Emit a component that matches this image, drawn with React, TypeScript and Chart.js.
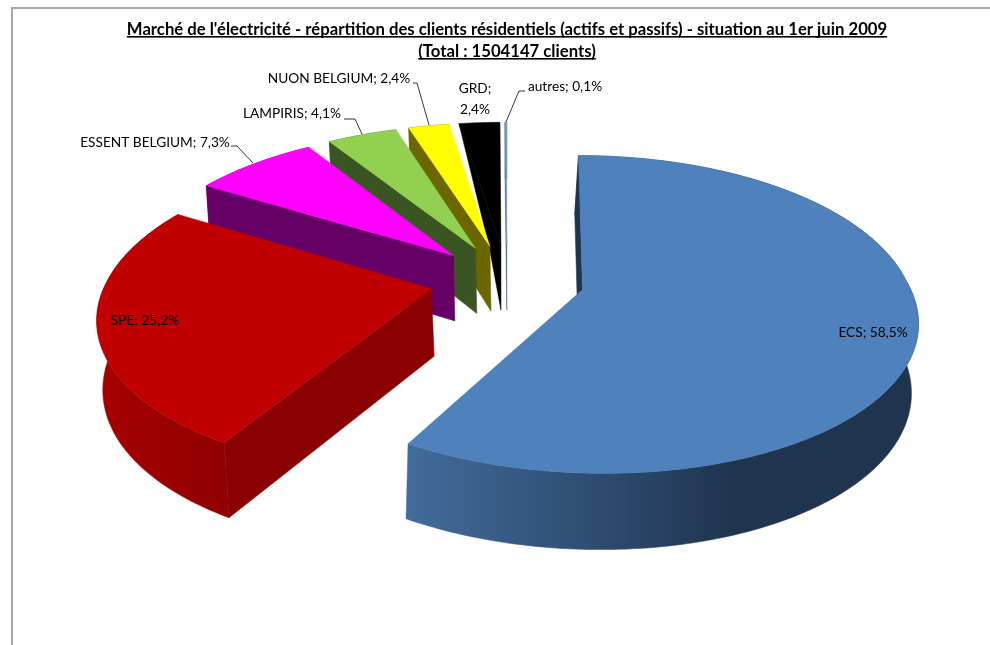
import React, { useEffect, useRef } from "react";
import { Chart, registerables } from "chart.js";

Chart.register(...registerables);

const categories = ["ECS", "SPE", "ESSENT BELGIUM", "LAMPIRIS", "NUON BELGIUM", "GRD", "autres"];
const shares = [58.5, 25.2, 7.3, 4.1, 2.4, 2.4, 0.1];
const titleLines = [
  "Marché de l'électricité - répartition des clients résidentiels (actifs et passifs) - situation au 1er juin 2009",
  "(Total : 1504147 clients)",
];

const faceColors = ["#4f81bd", "#c00000", "#ff00ff", "#92d050", "#ffff00", "#000000", "#7f9fcc"];
const wallColors = ["#1f344f", "#8b0000", "#660066", "#3a5522", "#6b6600", "#000000", "#3f5f85"];
const rimStops: string[][] = [
  ["#426c9c", "#1f344f"],
  ["#a60000", "#8e0000"],
  ["#660066", "#660066"],
  ["#3a5522", "#3a5522"],
  ["#6b6600", "#6b6600"],
  ["#000000", "#000000"],
  ["#3f5f85", "#3f5f85"],
];

const view = { radius: 325, flatRadius: 152, persp: 0.155, depth: 67, depthGrow: 0.13, bottomScale: 0.99 };
const bottomShiftX = [-3, 2, 1, 1, 1, 0, 0];
const frontSkew = [8, -3, 0, 0, 0, 0, 0];
const rearSkew = [7, 0, 0, 0, 0, 0, 0];
const sliceShiftY = [0, 0, 0, 0, 0, 0, 0];
// slices whose cut wall only shows as a partial silhouette: [along the edge, down the wall]
const partialWall: ([number, number] | null)[] = [null, null, null, null, null, [0.28, 0.55], null];

// anchor for each label: x, y (middle), align
const labelPlace: [number, number, CanvasTextAlign][] = [
  [873, 333, "center"],
  [145, 321, "center"],
  [155, 143, "center"],
  [292, 114, "center"],
  [339, 79, "center"],
  [475, 100, "center"],
  [565, 87, "center"],
];
const leaders: number[][][] = [
  [],
  [],
  [[231, 146], [237, 146], [253, 163]],
  [[344, 119], [355, 119], [362, 134]],
  [[413, 83], [417, 83], [429, 125]],
  [],
  [[506, 122], [519, 91], [525, 91]],
];

const titleFont = { family: "Lato", size: 16.7, weight: "bold" as const, lineHeight: 22 / 16.7 };
const labelFont = "13.7px Lato";

const pie3d = {
  id: "pie3d",
  beforeDatasetsDraw(chart: any) {
    const ctx: CanvasRenderingContext2D = chart.ctx;
    const arcs = chart.getDatasetMeta(0).data;
    const { radius, flatRadius, persp, depth, depthGrow, bottomScale } = view;
    for (let i = arcs.length - 1; i >= 0; i--) {
      const el = arcs[i];
      const { x: cx, y: cy0, startAngle, endAngle, outerRadius } = el.getProps(
        ["x", "y", "startAngle", "endAngle", "outerRadius"], true);
      const cy = cy0 + sliceShiftY[i];
      const mid = (startAngle + endAngle) / 2;
      const off = el.options.offset / outerRadius;
      const ou = Math.cos(mid) * off;
      const ov = Math.sin(mid) * off;
      const skew = (v: number) => frontSkew[i] * Math.max(v, 0) + rearSkew[i] * Math.max(-v, 0);
      const top = (u: number, v: number) => {
        const s = 1 / (1 - persp * v);
        return [cx + u * radius * s + skew(v), cy + v * flatRadius * s];
      };
      const bot = (u: number, v: number) => {
        const s = 1 / (1 - persp * v);
        return [
          cx + (u * radius * s + skew(v)) * bottomScale + bottomShiftX[i],
          cy + v * flatRadius * s + depth * (1 + depthGrow * v),
        ];
      };
      const steps = Math.max(2, Math.ceil((endAngle - startAngle) * 60));
      const rim: number[][] = [];
      for (let k = 0; k <= steps; k++) {
        const a = startAngle + ((endAngle - startAngle) * k) / steps;
        rim.push([ou + Math.cos(a), ov + Math.sin(a)]);
      }
      const poly = (pts: number[][], fill: string | CanvasGradient) => {
        ctx.beginPath();
        pts.forEach((p, n) => (n ? ctx.lineTo(p[0], p[1]) : ctx.moveTo(p[0], p[1])));
        ctx.closePath();
        ctx.fillStyle = fill;
        ctx.strokeStyle = fill;
        ctx.lineWidth = 0.5;
        ctx.fill();
        ctx.stroke();
      };
      const topRim = rim.map((p) => top(p[0], p[1]));
      const botRim = rim.map((p) => bot(p[0], p[1]));
      const tip = top(ou, ov);
      const tipBottom = bot(ou, ov);
      const partial = partialWall[i];
      if (!partial) {
        // outer wall
        const xs = botRim.map((p) => p[0]);
        const minX = Math.min(...xs);
        const grad = ctx.createLinearGradient(minX, 0, minX + (i === 0 ? 330 : 130), 0);
        grad.addColorStop(0, rimStops[i][0]);
        grad.addColorStop(1, rimStops[i][1]);
        poly([...topRim, ...botRim.slice().reverse()], grad);
        // cut wall at the start of the slice
        poly([tip, topRim[0], botRim[0], tipBottom], wallColors[i]);
      } else {
        const bend = [
          tip[0] + (topRim[0][0] - tip[0]) * partial[0] + (tipBottom[0] - tip[0]) * partial[1],
          tip[1] + (topRim[0][1] - tip[1]) * partial[0] + (tipBottom[1] - tip[1]) * partial[1],
        ];
        poly([tip, topRim[0], bend, tipBottom], wallColors[i]);
      }
      // top face
      poly([tip, ...topRim], faceColors[i]);
    }
    return false;
  },
  afterDraw(chart: any) {
    const ctx: CanvasRenderingContext2D = chart.ctx;
    const tb = chart.titleBlock;
    ctx.save();
    // title underlines
    ctx.font = `bold ${titleFont.size}px ${titleFont.family}`;
    ctx.fillStyle = "#000";
    const lh = 22;
    titleLines.forEach((line, n) => {
      const w = ctx.measureText(line).width;
      const mid = (tb.left + tb.right) / 2;
      const y = tb.top + 19 + lh * n + lh / 2 + 6;
      ctx.fillRect(mid - w / 2, y, w, 1.6);
    });
    // leader lines
    ctx.strokeStyle = "#000";
    ctx.lineWidth = 0.8;
    leaders.forEach((pts) => {
      if (!pts.length) return;
      ctx.beginPath();
      pts.forEach((p, n) => (n ? ctx.lineTo(p[0], p[1]) : ctx.moveTo(p[0], p[1])));
      ctx.stroke();
    });
    // data labels
    ctx.font = labelFont;
    ctx.textBaseline = "middle";
    categories.forEach((name, i) => {
      const pct = shares[i].toFixed(1).replace(".", ",") + "%";
      const [x, y, align] = labelPlace[i];
      ctx.textAlign = align;
      if (name === "GRD") {
        ctx.fillText(name + ";", x, y - 11);
        ctx.fillText(pct, x, y + 10);
      } else {
        ctx.fillText(`${name}; ${pct}`, x, y);
      }
    });
    ctx.restore();
  },
};

export default function App() {
  const ref = useRef<HTMLCanvasElement>(null);
  useEffect(() => {
    const chart = new Chart(ref.current as HTMLCanvasElement, {
      type: "pie",
      data: {
        labels: categories,
        datasets: [{ data: shares, backgroundColor: faceColors, borderWidth: 0, offset: 46 }],
      },
      options: {
        animation: false,
        responsive: false,
        rotation: 0,
        layout: { padding: { left: 24, bottom: 148 } },
        plugins: {
          legend: { display: false },
          tooltip: { enabled: false },
          title: {
            display: true,
            text: titleLines,
            color: "#000",
            font: titleFont,
            padding: { top: 19, bottom: 0 },
          },
        },
      },
      plugins: [pie3d],
    } as any);
    return () => chart.destroy();
  }, []);
  return (
    <div style={{ position: "fixed", left: 0, top: 0, width: 990, height: 645, background: "#fff", overflow: "hidden" }}>
      <div style={{ position: "absolute", left: 11, top: 7, right: -4, bottom: -4, borderLeft: "2px solid #a6a6a6", borderTop: "2px solid #a6a6a6" }} />
      <canvas ref={ref} width={990} height={645} style={{ position: "absolute", left: 0, top: 0 }} />
    </div>
  );
}
